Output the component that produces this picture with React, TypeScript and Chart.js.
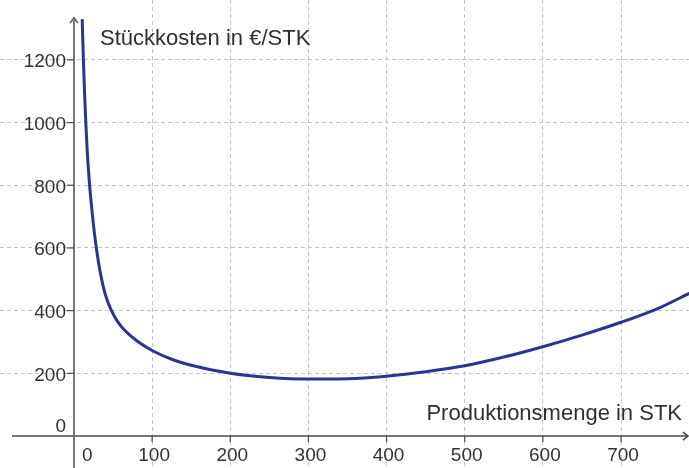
import React, { useEffect, useRef } from "react";
import { Chart, registerables } from "chart.js";

Chart.register(...registerables);

// Produktionsmenge (STK)
const quantities = [10.5, 12, 13.5, 15, 17, 20, 24, 28, 33, 40, 48, 55, 62, 70, 82, 100, 125, 150, 200, 250, 300, 350, 400, 450, 500, 550, 600, 650, 700, 750, 788];
// Stückkosten (€/STK)
const unitCosts = [1330, 1200, 1095, 1005, 905, 800, 695, 610, 530, 452, 400, 368, 345, 325, 301, 273, 245, 226, 200, 187, 182, 183, 191, 205, 224, 252, 285, 322, 363, 410, 456];

const xTickLabels = [0, 100, 200, 300, 400, 500, 600, 700];
const yTickLabels = [0, 200, 400, 600, 800, 1000, 1200];
const xGridTicks = [100, 200, 300, 400, 500, 600, 700];
const yGridTicks = [200, 400, 600, 800, 1000, 1200];

const yAxisTitle = "Stückkosten in €/STK";
const xAxisTitle = "Produktionsmenge in STK";

const X_MIN = -94.7;
const X_MAX = 787;
const Y_MIN = -102;
const Y_MAX = 1391;

const FONT = "'Liberation Sans', Arial, sans-serif";

const axesPlugin = {
  id: "geoAxes",
  beforeDatasetsDraw(chart: any) {
    const { ctx } = chart;
    const xs = chart.scales.x;
    const ys = chart.scales.y;
    const x0 = xs.getPixelForValue(0);
    const y0 = ys.getPixelForValue(0);
    const right = chart.chartArea.right;
    const top = chart.chartArea.top;
    const bottom = chart.chartArea.bottom;
    ctx.save();
    ctx.lineCap = "butt";
    // x axis
    ctx.strokeStyle = "#4a4a4a";
    ctx.lineWidth = 1.6;
    ctx.beginPath();
    ctx.moveTo(12, y0);
    ctx.lineTo(right - 1, y0);
    ctx.stroke();
    ctx.beginPath();
    ctx.moveTo(right - 6, y0 - 4);
    ctx.lineTo(right - 1, y0);
    ctx.lineTo(right - 6, y0 + 4);
    ctx.stroke();
    // y axis
    ctx.strokeStyle = "#6a6a6a";
    ctx.lineWidth = 1.8;
    ctx.beginPath();
    ctx.moveTo(x0, bottom);
    ctx.lineTo(x0, top + 17);
    ctx.stroke();
    ctx.beginPath();
    ctx.moveTo(x0 - 4, top + 23);
    ctx.lineTo(x0, top + 18);
    ctx.lineTo(x0 + 4, top + 23);
    ctx.stroke();
    // tick marks
    ctx.strokeStyle = "#4a4a4a";
    ctx.lineWidth = 1.2;
    yTickLabels.forEach((v) => {
      if (v === 0) return;
      const py = ys.getPixelForValue(v);
      ctx.beginPath();
      ctx.moveTo(x0 - 7, py);
      ctx.lineTo(x0, py);
      ctx.stroke();
    });
    xTickLabels.forEach((v) => {
      if (v === 0) return;
      const px = xs.getPixelForValue(v);
      ctx.beginPath();
      ctx.moveTo(px, y0);
      ctx.lineTo(px, y0 + 6);
      ctx.stroke();
    });
    ctx.restore();
  },
  afterDraw(chart: any) {
    const { ctx } = chart;
    const xs = chart.scales.x;
    const ys = chart.scales.y;
    const x0 = xs.getPixelForValue(0);
    const y0 = ys.getPixelForValue(0);
    ctx.save();
    ctx.fillStyle = "#333333";
    ctx.font = "19px " + FONT;
    ctx.textBaseline = "alphabetic";
    // y tick labels
    ctx.textAlign = "right";
    yTickLabels.forEach((v) => {
      if (v === 0) {
        ctx.fillText(String(v), x0 - 8, y0 - 4);
        return;
      }
      const py = ys.getPixelForValue(v);
      ctx.fillText(String(v), x0 - 8, py + 7.5);
    });
    // x tick labels
    xTickLabels.forEach((v) => {
      if (v === 0) {
        ctx.textAlign = "left";
        ctx.fillText(String(v), x0 + 8, y0 + 25);
        return;
      }
      ctx.textAlign = "center";
      const px = xs.getPixelForValue(v);
      ctx.fillText(String(v), px + 2, y0 + 25);
    });
    // axis titles
    ctx.font = "22px " + FONT;
    ctx.fillStyle = "#303030";
    ctx.textAlign = "left";
    ctx.fillText(yAxisTitle, x0 + 26, chart.chartArea.top + 45);
    ctx.textAlign = "right";
    ctx.fillText(xAxisTitle, chart.chartArea.right - 7, y0 - 16);
    ctx.restore();
  },
};

export default function App() {
  const canvasRef = useRef<HTMLCanvasElement | null>(null);

  useEffect(() => {
    document.body.style.margin = "0";
    const canvas = canvasRef.current;
    if (!canvas) return;
    const chart = new Chart(canvas, {
      type: "line",
      data: {
        datasets: [
          {
            data: quantities.map((q, i) => ({ x: q, y: unitCosts[i] })),
            borderColor: "#2b3591",
            borderWidth: 3,
            pointRadius: 0,
            fill: false,
            cubicInterpolationMode: "monotone",
          },
        ],
      },
      options: {
        animation: false,
        responsive: false,
        devicePixelRatio: 1,
        layout: { padding: 0, autoPadding: false },
        plugins: { legend: { display: false }, tooltip: { enabled: false } },
        events: [],
        scales: {
          x: {
            type: "linear",
            min: X_MIN,
            max: X_MAX,
            bounds: "data",
            afterBuildTicks: (scale: any) => {
              scale.ticks = xGridTicks.map((v) => ({ value: v }));
            },
            ticks: { display: false },
            grid: { color: "#c4c4c4", lineWidth: 1, drawTicks: false },
            border: { display: false, dash: [4, 3] },
          },
          y: {
            type: "linear",
            min: Y_MIN,
            max: Y_MAX,
            bounds: "data",
            afterBuildTicks: (scale: any) => {
              scale.ticks = yGridTicks.map((v) => ({ value: v }));
            },
            ticks: { display: false },
            grid: { color: "#c4c4c4", lineWidth: 1, drawTicks: false },
            border: { display: false, dash: [4, 3] },
          },
        },
      },
      plugins: [axesPlugin],
    } as any);
    return () => chart.destroy();
  }, []);

  return (
    <div style={{ position: "fixed", left: 0, top: 0, width: 689, height: 468, background: "#ffffff" }}>
      <canvas ref={canvasRef} width={689} height={468} style={{ display: "block" }} />
    </div>
  );
}
